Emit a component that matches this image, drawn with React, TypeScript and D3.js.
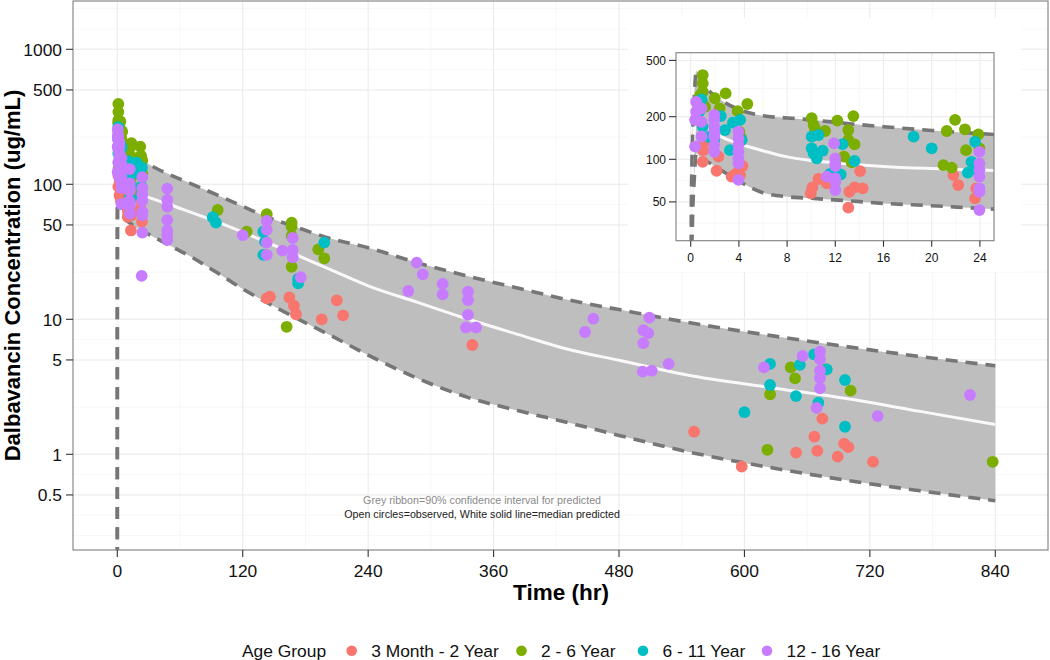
import React from "react";
import * as d3 from "d3";

// ---------- DATA ----------
const GROUPS = ["3 Month - 2 Year", "2 - 6 Year", "6 - 11 Year", "12 - 16 Year"];
const COLORS = ["#F8766D", "#7CAE00", "#00BFC4", "#C77CFF"];

const X_TICKS = [0, 120, 240, 360, 480, 600, 720, 840];
const Y_TICKS = [0.5, 1, 5, 10, 50, 100, 500, 1000];
const INSET_X_TICKS = [0, 4, 8, 12, 16, 20, 24];
const INSET_Y_TICKS = [50, 100, 200, 500];

// predicted curves (time hr)
const CURVE_T = [0, 0.05, 0.15, 0.3, 0.45, 0.9, 1.5, 2.5, 4, 6, 8, 10, 13, 16, 20, 24, 32, 48, 72, 96, 120, 144, 168, 204, 240, 288, 336, 384, 432, 480, 552, 624, 696, 768, 840];
const UPPER = [0.001, 46, 140, 280, 420, 350, 305, 262, 225, 203, 196, 190, 179, 170, 160, 152, 138, 120, 100, 83, 68.7, 56.9, 49.1, 39.7, 33.9, 26.1, 20.8, 17.0, 13.9, 11.8, 9.3, 7.6, 6.3, 5.3, 4.53];
const MEDIAN = [0.001, 26, 78, 155, 232, 188, 165, 145, 129, 115, 104, 98, 93, 89, 86, 84, 79, 71.8, 61.4, 52.5, 44.3, 36.9, 30.8, 23.3, 17.7, 13.3, 10.0, 7.7, 5.97, 4.97, 3.78, 3.13, 2.6, 2.08, 1.66];
const LOWER = [0.001, 12, 37, 73, 110, 101, 95, 84, 70, 58, 54.4, 53, 51, 48.8, 47, 45, 41.8, 35.9, 28.6, 22.0, 16.8, 13.2, 10.5, 7.6, 5.43, 3.63, 2.63, 2.1, 1.71, 1.38, 1.02, 0.8, 0.645, 0.537, 0.453];

// observations within first 24 h (shown in both panels)
const early3M2Y: [number, number][] = [[1.05,130],[1.05,116],[1.0,96],[2.3,104.5],[2.15,83],[3.4,75.4],[3.8,79.6],[4.3,89.7],[4.1,77.4],[10.6,72.6],[10.1,63.4],[9.96,57.5],[11.3,67.6],[13.17,59],[13.6,63.4],[14.27,62.4],[13.08,45.5],[14.06,82.6],[21.8,77.4],[22.2,65.8],[23.7,62.4],[23.6,53]];
const early2to6: [number, number][] = [[1.0,394],[1.0,344],[1.0,300],[0.8,285],[1.0,248],[1.2,235],[2.0,270],[2.4,229],[2.9,292],[3.9,219],[4.7,246],[4.04,157],[4.2,141],[10.04,195],[10.2,175],[10.3,165.5],[11.15,158.5],[12.17,187.5],[13.08,161],[13.08,137],[13.5,202],[13.6,127.6],[12.72,104.5],[13.35,95.3],[20.97,91],[21.66,87.3],[21.25,158.5],[21.94,190],[22.76,163],[22.85,116],[23.87,150],[23.96,119.5]];
const early6to11: [number, number][] = [[0.7,217],[0.9,265],[1.0,170],[1.5,144],[2.5,202],[2.85,161],[1.96,137],[3.5,181.5],[4.1,190],[3.26,116],[4.23,137],[10.04,144.5],[10.6,148.5],[10.04,119.5],[10.2,110],[10.46,101.6],[10.95,115],[11.56,78.7],[12.6,128],[13.6,97.3],[12.45,78.3],[18.5,144.5],[20,119.5],[23.6,133],[23.3,96],[23,80.5],[23.6,85]];
const early12to16: [number, number][] = [[0.45,255],[0.65,229],[0.9,229],[0.45,217],[0.36,190],[0.9,184],[0.9,145],[0.5,190],[0.36,123],[1.96,206],[1.96,190],[1.96,170],[1.96,157],[1.96,145],[1.96,126],[1.96,113],[3.96,157],[3.96,141],[3.96,126],[3.96,113],[3.96,101.6],[3.96,93.7],[3.96,71.5],[11.9,129.7],[12,101.6],[12,93.7],[12,89.7],[12,73.4],[12,69.5],[12,60.7],[11.3,75.4],[23.96,113],[23.96,93.7],[23.96,84],[23.96,75.4],[23.96,62.4],[23.96,59],[23.96,43.8],[23.3,21]];

// later observations (main panel only)
const late3M2Y: [number, number][] = [[143,14.3],[146,14.7],[164.6,14.5],[169,12.6],[171,10.9],[210,13.8],[216,10.7],[195.6,10],[339.7,6.45],[551.8,1.47],[597.4,0.81],[674.5,1.84],[666.9,1.35],[669.7,1.06],[649.4,1.03],[695.3,1.2],[699.4,1.13],[689.2,0.96],[723,0.88]];
const late2to6: [number, number][] = [[96,64.5],[123.8,44.5],[143,60],[166.8,52],[166.8,48.5],[166.8,41.4],[166.8,24.5],[162,8.8],[192.3,33],[198,28.3],[622,1.08],[624.5,2.78],[644.3,4.4],[648.4,3.65],[678,4.26],[701.6,2.96],[837.5,0.88]];
const late6to11: [number, number][] = [[91.3,57],[94.4,52],[139.7,44.5],[141.3,37.6],[139.7,30],[173,20],[173,18.5],[198,37],[600,2.05],[624.5,4.67],[624.5,3.26],[653,4.6],[649.3,2.7],[666.6,5.5],[670.7,2.41],[678.7,4.26],[696.2,3.55],[696.2,1.6]];
const late12to16: [number, number][] = [[47.8,93],[47.8,76.5],[47.8,68],[47.8,54.5],[47.8,45.8],[47.8,42],[47.8,38.6],[120,42],[143,53.5],[143,46],[143,37],[143,30],[158,32.3],[167.8,40],[167.8,32.7],[167.8,28.8],[175.5,20.5],[286.5,26.3],[292.2,21.5],[278.4,16.2],[311.3,18.3],[311.3,15.3],[335.5,16],[335.5,13.9],[335.5,10.8],[333.6,8.7],[343.2,8.7],[455.4,10.1],[447.5,8.05],[509,10.3],[503.3,8.3],[508,7.9],[503.3,6.65],[502.7,4.1],[511.3,4.16],[527.5,4.67],[618.7,4.4],[655.7,5.35],[672.3,5.77],[672.3,5.05],[672.3,4.16],[672.3,3.66],[672.3,3.08],[669,2.21],[727.5,1.92],[815.8,2.75]];

const EARLY = [early3M2Y, early2to6, early6to11, early12to16];
const LATE = [late3M2Y, late2to6, late6to11, late12to16];

// ---------- LAYOUT ----------
const W = 1050, H = 660;
const FONT = "'Liberation Sans', Arial, Helvetica, sans-serif";
const P = { l: 73, r: 1048, t: 1, b: 550 };
const IP = { l: 676, r: 994, t: 52.7, b: 240.7 };
const LEGEND_X = [351.7, 521.5, 643, 767];
const R = 5.9;

function minorLog(majors: number[], lo: number, hi: number) {
  const b = majors.map(Math.log10);
  const bd = b[1] - b[0];
  const ext = [b[0] - bd, ...b, b[b.length - 1] + bd];
  const out: number[] = [];
  ext.forEach((v, i) => {
    out.push(v);
    if (i < ext.length - 1) out.push((v + ext[i + 1]) / 2);
  });
  return out.filter(v => v >= Math.log10(lo) && v <= Math.log10(hi)).map(v => Math.pow(10, v));
}

export default function App() {
  const x = d3.scaleLinear().domain([0, 840]).range([117.3, 995.3]);
  const y = d3.scaleLog().domain([1, 1000]).range([454.3, 49.3]);
  const xi = d3.scaleLinear().domain([0, 24]).range([690.7, 979.9]);
  const yi = d3.scaleLog().domain([50, 500]).range([201.9, 60.4]);

  const curve = CURVE_T.map((t, i) => ({ t, u: UPPER[i], m: MEDIAN[i], l: LOWER[i] }));

  const mkPaths = (xs: any, ys: any) => {
    const area = d3.area<any>().x(d => xs(d.t)).y0(d => ys(d.l)).y1(d => ys(d.u)).curve(d3.curveMonotoneX);
    const lu = d3.line<any>().x(d => xs(d.t)).y(d => ys(d.u)).curve(d3.curveMonotoneX);
    const ll = d3.line<any>().x(d => xs(d.t)).y(d => ys(d.l)).curve(d3.curveMonotoneX);
    const lm = d3.line<any>().x(d => xs(d.t)).y(d => ys(d.m)).curve(d3.curveMonotoneX);
    return { area: area(curve) || "", u: lu(curve) || "", l: ll(curve) || "", m: lm(curve) || "" };
  };
  const mainP = mkPaths(x, y);
  const insetP = mkPaths(xi, yi);

  const yLo = y.invert(P.b), yHi = y.invert(P.t);
  const yMinor = minorLog(Y_TICKS, yLo, yHi);
  const xLo = x.invert(P.l), xHi = x.invert(P.r);
  const xMinor = X_TICKS.slice(0, -1).map((v, i) => (v + X_TICKS[i + 1]) / 2).filter(v => v > xLo && v < xHi);

  const yiLo = yi.invert(IP.b), yiHi = yi.invert(IP.t);
  const yiMinor = minorLog(INSET_Y_TICKS, yiLo, yiHi);
  const xiMinor = INSET_X_TICKS.slice(0, -1).map((v, i) => (v + INSET_X_TICKS[i + 1]) / 2);

  const dash = "12 8";
  const dashColor = "#767676";

  return (
    <svg width={W} height={H} style={{ position: "absolute", left: 0, top: 0, background: "#fff" }} fontFamily={FONT}>
      <defs>
        <clipPath id="mainClip"><rect x={P.l} y={P.t} width={P.r - P.l} height={P.b - P.t} /></clipPath>
        <clipPath id="insetClip"><rect x={IP.l} y={IP.t} width={IP.r - IP.l} height={IP.b - IP.t} /></clipPath>
      </defs>
      <rect x={0} y={0} width={W} height={H} fill="#fff" />
      <g>
        <rect x={P.l} y={P.t} width={P.r - P.l} height={P.b - P.t} fill="#fff" />
        {yMinor.map((v, i) => <line key={"ym" + i} x1={P.l} x2={P.r} y1={y(v)} y2={y(v)} stroke="#f5f5f5" strokeWidth={0.8} />)}
        {xMinor.map((v, i) => <line key={"xm" + i} y1={P.t} y2={P.b} x1={x(v)} x2={x(v)} stroke="#f5f5f5" strokeWidth={0.8} />)}
        {Y_TICKS.map((v, i) => <line key={"yg" + i} x1={P.l} x2={P.r} y1={y(v)} y2={y(v)} stroke="#ebebeb" strokeWidth={1.1} />)}
        {X_TICKS.map((v, i) => <line key={"xg" + i} y1={P.t} y2={P.b} x1={x(v)} x2={x(v)} stroke="#ebebeb" strokeWidth={1.1} />)}
        <g clipPath="url(#mainClip)">
          <path d={mainP.area} fill="#bebebe" />
          <path d={mainP.m} fill="none" stroke="#fbf8fb" strokeWidth={3} />
          <path d={mainP.u} fill="none" stroke={dashColor} strokeWidth={3.6} strokeDasharray={dash} />
          <path d={mainP.l} fill="none" stroke={dashColor} strokeWidth={3.6} strokeDasharray={dash} />
          {EARLY.map((arr, g) => arr.map((d, i) => <circle key={"e" + g + "_" + i} cx={x(d[0])} cy={y(d[1])} r={R} fill={COLORS[g]} />))}
          {LATE.map((arr, g) => arr.map((d, i) => <circle key={"l" + g + "_" + i} cx={x(d[0])} cy={y(d[1])} r={R} fill={COLORS[g]} />))}
          <text x={x(349)} y={y(0.46)} dy="0.35em" textAnchor="middle" fontSize={10.7} fill="#8a8a8a">Grey ribbon=90% confidence interval for predicted</text>
          <text x={x(349)} y={y(0.36)} dy="0.35em" textAnchor="middle" fontSize={10.7} fill="#222">Open circles=observed, White solid line=median predicted</text>
        </g>
        <rect x={P.l} y={P.t} width={P.r - P.l} height={P.b - P.t} fill="none" stroke="#7f7f7f" strokeWidth={1.1} />
        {Y_TICKS.map((v, i) => (
          <g key={"yt" + i}>
            <line x1={P.l - 7} x2={P.l} y1={y(v)} y2={y(v)} stroke="#333" strokeWidth={1.1} />
            <text x={P.l - 11} y={y(v)} dy="0.36em" textAnchor="end" fontSize={17.4} fill="#111">{String(v)}</text>
          </g>
        ))}
        {X_TICKS.map((v, i) => (
          <g key={"xt" + i}>
            <line y1={P.b} y2={P.b + 7} x1={x(v)} x2={x(v)} stroke="#333" strokeWidth={1.1} />
            <text x={x(v)} y={577} textAnchor="middle" fontSize={17.4} fill="#111">{String(v)}</text>
          </g>
        ))}
        <text x={561} y={600} textAnchor="middle" fontSize={22.5} fontWeight="bold" fill="#000">Time (hr)</text>
        <text transform={`translate(20, ${(P.t + P.b) / 2}) rotate(-90)`} textAnchor="middle" fontSize={22} fontWeight="bold" fill="#000">Dalbavancin Concentration (ug/mL)</text>
      </g>

      {/* inset */}
      <g>
        <rect x={628} y={18} width={1021 - 628} height={272 - 18} fill="#fff" />
        <rect x={IP.l} y={IP.t} width={IP.r - IP.l} height={IP.b - IP.t} fill="#fff" />
        {yiMinor.map((v, i) => <line key={"iym" + i} x1={IP.l} x2={IP.r} y1={yi(v)} y2={yi(v)} stroke="#f5f5f5" strokeWidth={0.8} />)}
        {xiMinor.map((v, i) => <line key={"ixm" + i} y1={IP.t} y2={IP.b} x1={xi(v)} x2={xi(v)} stroke="#f5f5f5" strokeWidth={0.8} />)}
        {INSET_Y_TICKS.map((v, i) => <line key={"iyg" + i} x1={IP.l} x2={IP.r} y1={yi(v)} y2={yi(v)} stroke="#ebebeb" strokeWidth={1} />)}
        {INSET_X_TICKS.map((v, i) => <line key={"ixg" + i} y1={IP.t} y2={IP.b} x1={xi(v)} x2={xi(v)} stroke="#ebebeb" strokeWidth={1} />)}
        <g clipPath="url(#insetClip)">
          <path d={insetP.area} fill="#bebebe" />
          <path d={insetP.m} fill="none" stroke="#fbf8fb" strokeWidth={3} />
          <path d={insetP.u} fill="none" stroke={dashColor} strokeWidth={3.6} strokeDasharray={dash} />
          <path d={insetP.l} fill="none" stroke={dashColor} strokeWidth={3.6} strokeDasharray={dash} />
          {EARLY.map((arr, g) => arr.map((d, i) => <circle key={"ie" + g + "_" + i} cx={xi(d[0])} cy={yi(d[1])} r={R} fill={COLORS[g]} />))}
        </g>
        <rect x={IP.l} y={IP.t} width={IP.r - IP.l} height={IP.b - IP.t} fill="none" stroke="#7f7f7f" strokeWidth={1.1} />
        {INSET_Y_TICKS.map((v, i) => (
          <g key={"iyt" + i}>
            <line x1={IP.l - 7} x2={IP.l} y1={yi(v)} y2={yi(v)} stroke="#333" strokeWidth={1.1} />
            <text x={IP.l - 10} y={yi(v)} dy="0.36em" textAnchor="end" fontSize={12} fill="#111">{String(v)}</text>
          </g>
        ))}
        {INSET_X_TICKS.map((v, i) => (
          <g key={"ixt" + i}>
            <line y1={IP.b} y2={IP.b + 6} x1={xi(v)} x2={xi(v)} stroke="#333" strokeWidth={1.1} />
            <text x={xi(v)} y={262} textAnchor="middle" fontSize={12} fill="#111">{String(v)}</text>
          </g>
        ))}
      </g>

      {/* legend */}
      <g>
        <text x={242} y={657} fontSize={17.4} fill="#111">Age Group</text>
        {GROUPS.map((gname, i) => (
          <g key={"lg" + i}>
            <circle cx={LEGEND_X[i]} cy={650.7} r={5.3} fill={COLORS[i]} />
            <text x={LEGEND_X[i] + 19.5} y={657} fontSize={17.4} fill="#111">{gname}</text>
          </g>
        ))}
      </g>
    </svg>
  );
}
